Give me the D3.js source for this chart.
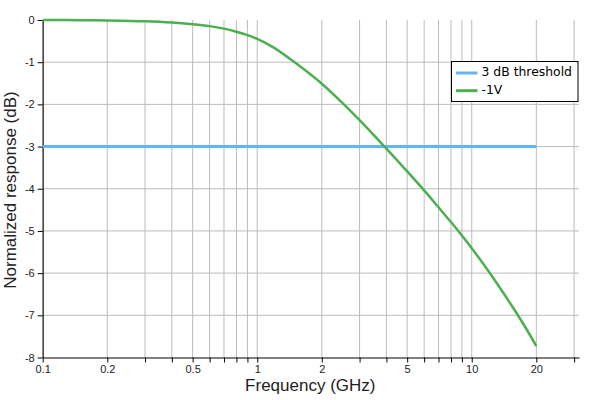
<!DOCTYPE html>
<html><head><meta charset="utf-8">
<script src="https://cdn.jsdelivr.net/npm/d3@7"></script>
<style>body{margin:0;background:#fff}svg{display:block}</style>
</head><body>
<svg id="chart" width="600" height="400"></svg>
<script>
const freqs = [0.1,0.15,0.2,0.3,0.4,0.5,0.6,0.7,0.8,0.9,1,1.2,1.5,2,2.5,3,4,5,6,7,8,9,10,12,14,16,18,20];
const response = [0,-0.003,-0.01,-0.03,-0.06,-0.1,-0.145,-0.205,-0.28,-0.36,-0.45,-0.66,-1.01,-1.51,-1.97,-2.375,-3.05,-3.59,-4.04,-4.44,-4.79,-5.11,-5.41,-5.96,-6.46,-6.91,-7.33,-7.73];
const thresholdX = [0.1, 20];
const thresholdY = [-3, -3];
const xTicks = [0.1,0.2,0.3,0.4,0.5,0.6,0.7,0.8,0.9,1,2,3,4,5,6,7,8,9,10,20,30];
const xLabels = [0.1,0.2,0.5,1,2,5,10,20];
const yTicks = [0,-1,-2,-3,-4,-5,-6,-7,-8];
const seriesNames = ["3 dB threshold","-1V"];
const colors = ["#64b5f6","#4caf50"];

const svg = d3.select("#chart");
const x = d3.scaleLog().domain([0.1, 31.62]).range([42.7, 579]);
const y = d3.scaleLinear().domain([-8, 0]).range([357.5, 20]);
const font = "'Liberation Sans', Arial, sans-serif";
const legendFont = "'DejaVu Sans', sans-serif";

// grid
svg.append("g").selectAll("line").data(xTicks).join("line")
  .attr("x1", d => x(d)).attr("x2", d => x(d))
  .attr("y1", y(0)).attr("y2", y(-8))
  .attr("stroke", "#bbb").attr("stroke-width", 1);
svg.append("g").selectAll("line").data(yTicks.filter(d => d !== -8 && d !== 0)).join("line")
  .attr("x1", x(0.1)).attr("x2", x(31.62))
  .attr("y1", d => y(d)).attr("y2", d => y(d))
  .attr("stroke", "#bbb").attr("stroke-width", 1);

// axes
const xAxis = d3.axisBottom(x).tickValues(xTicks).tickSize(5).tickSizeOuter(0)
  .tickFormat(d => xLabels.includes(d) ? String(d) : "");
const gx = svg.append("g").attr("transform", `translate(0,${y(-8)})`).call(xAxis);
gx.select(".domain").attr("stroke", "#000");
gx.selectAll(".tick line").attr("stroke", "#000");
gx.selectAll("text").attr("font-family", font).attr("font-size", 11).attr("fill", "#222");

const yAxis = d3.axisLeft(y).tickValues(yTicks).tickSize(5).tickSizeOuter(0).tickFormat(d => String(d));
const gy = svg.append("g").attr("transform", `translate(${x(0.1)},0)`).call(yAxis);
gy.select(".domain").attr("stroke", "#000");
gy.selectAll(".tick line").attr("stroke", "#000");
gy.selectAll("text").attr("font-family", font).attr("font-size", 11).attr("fill", "#222");

// lines
const line = d3.line().x(d => x(d[0])).y(d => y(d[1])).curve(d3.curveCatmullRom);
svg.append("path").datum(thresholdX.map((f,i)=>[f,thresholdY[i]]))
  .attr("d", line).attr("fill","none").attr("stroke", colors[0]).attr("stroke-width", 3);
svg.append("path").datum(freqs.map((f,i)=>[f,response[i]]))
  .attr("d", line).attr("fill","none").attr("stroke", colors[1]).attr("stroke-width", 2.5);

// titles
svg.append("text").attr("x", 310.3).attr("y", 390.7).attr("text-anchor","middle")
  .attr("font-family", font).attr("font-size", 17).attr("fill","#222").text("Frequency (GHz)");
svg.append("text").attr("transform", "translate(15.5,190) rotate(-90)").attr("text-anchor","middle")
  .attr("font-family", font).attr("font-size", 17).attr("fill","#222").text("Normalized response (dB)");

// legend
const lg = svg.append("g");
lg.append("rect").attr("x", 451.5).attr("y", 61.5).attr("width", 126.5).attr("height", 40)
  .attr("fill","#fff").attr("stroke","#000").attr("stroke-width",1);
seriesNames.forEach((n,i) => {
  const yy = 73 + i*17.7;
  lg.append("line").attr("x1", 456).attr("x2", 477.5).attr("y1", yy).attr("y2", yy)
    .attr("stroke", colors[i]).attr("stroke-width", 3);
  lg.append("text").attr("x", 481.5).attr("y", yy + 3.3)
    .attr("font-family", legendFont).attr("font-size", 12.4).attr("fill","#000").text(n);
});
</script>
</body></html>
